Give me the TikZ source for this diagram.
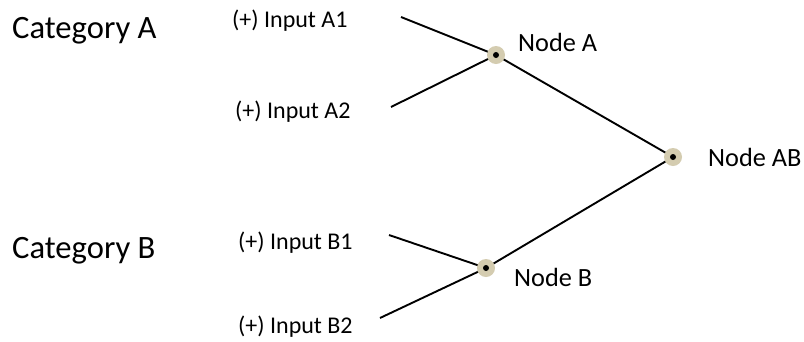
\documentclass[tikz,border=0pt]{standalone}
\usepackage{fontspec}
\setmainfont{Carlito}
\definecolor{ringtan}{RGB}{212,204,176}
\begin{document}
\begin{tikzpicture}[x=1pt,y=-1pt,
  cat/.style={anchor=west,inner sep=0pt,font=\fontsize{32.6}{38}\selectfont},
  inp/.style={anchor=west,inner sep=0pt,font=\fontsize{24}{29}\selectfont},
  lab/.style={anchor=west,inner sep=0pt,font=\fontsize{26.3}{31}\selectfont},
  junction/.style={circle,fill=ringtan,minimum size=18pt,inner sep=0pt},
  dot/.style={circle,fill=black,minimum size=6pt,inner sep=0pt},
  wire/.style={line width=1.9pt}]
\useasboundingbox[fill=white] (0,0) rectangle (804,341);

% category headings
\node[cat] (catA) at (12,31) {Category A};
\node[cat] (catB) at (12,251) {Category B};

% input labels
\node[inp] (inA1) at (232,21) {(+) Input A1};
\node[inp] (inA2) at (235,112) {(+) Input A2};
\node[inp] (inB1) at (238,243) {(+) Input B1};
\node[inp] (inB2) at (238,327) {(+) Input B2};

% free ends of the input wires
\coordinate (eA1) at (401,17);
\coordinate (eA2) at (391,107);
\coordinate (eB1) at (389,235);
\coordinate (eB2) at (380,318);

% junction points
\coordinate (pA) at (496,55);
\coordinate (pB) at (486,268);
\coordinate (pAB) at (673,157);

% wires
\draw[wire] (eA1) -- (pA);
\draw[wire] (eA2) -- (pA);
\draw[wire] (eB1) -- (pB);
\draw[wire] (eB2) -- (pB);
\draw[wire] (pA) -- (pAB);
\draw[wire] (pB) -- (pAB);

% junction markers
\node[junction] (nA) at (pA) {};
\node[dot] at (nA) {};
\node[junction] (nB) at (pB) {};
\node[dot] at (nB) {};
\node[junction] (nAB) at (pAB) {};
\node[dot] at (nAB) {};

% junction labels
\node[lab] (labA) at (518,42.5) {Node A};
\node[lab] (labB) at (514,277) {Node B};
\node[lab] (labAB) at (708,157.5) {Node AB};
\end{tikzpicture}
\end{document}
